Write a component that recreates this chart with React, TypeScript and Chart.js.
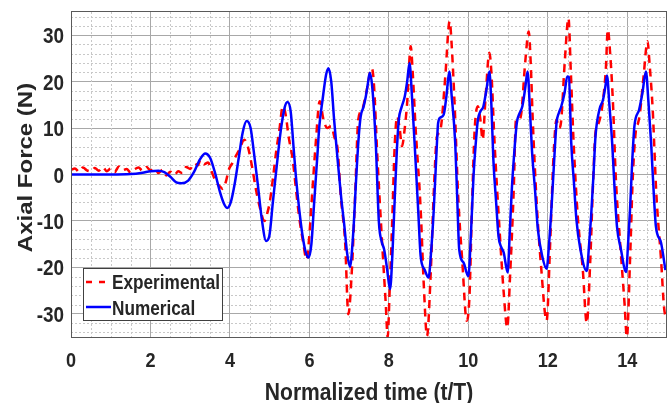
import React, { useEffect, useRef } from "react";
import { Chart, registerables } from "chart.js";

Chart.register(...registerables);

// ---- data ----
const xTicks = [0, 2, 4, 6, 8, 10, 12, 14];
const yTicks = [-30, -20, -10, 0, 10, 20, 30];
const xTitle = "Normalized time (t/T)";
const yTitle = "Axial Force (N)";
const seriesNames = ["Experimental", "Numerical"];

const expT = [
  0, 0.1, 0.2, 0.3, 0.4, 0.5, 0.6, 0.7, 0.8, 0.9, 1.0, 1.1, 1.2, 1.3, 1.4, 1.5, 1.6, 1.7, 1.8, 1.9,
  2.0, 2.1, 2.2, 2.3, 2.4, 2.5, 2.6, 2.7, 2.8, 2.9, 3.0, 3.1, 3.2, 3.25, 3.35, 3.45, 3.55, 3.65, 3.74, 3.82,
  3.9, 3.97, 4.07, 4.15, 4.24, 4.36, 4.45, 4.55, 4.65, 4.75, 4.87, 4.95, 5.0, 5.08, 5.16, 5.25, 5.33, 5.4, 5.48, 5.58,
  5.66, 5.74, 5.84, 5.93, 6.0, 6.06, 6.16, 6.26, 6.35, 6.45, 6.55, 6.63, 6.71, 6.79, 6.9, 6.98, 7.07, 7.15, 7.23, 7.33,
  7.43, 7.57, 7.62, 7.71, 7.83, 7.92, 7.97, 8.02, 8.08, 8.15, 8.21, 8.27, 8.33, 8.4, 8.46, 8.55, 8.6, 8.67, 8.8, 8.88,
  8.96, 9.05, 9.13, 9.21, 9.27, 9.32, 9.42, 9.53, 9.58, 9.66, 9.74, 9.85, 9.96, 10.03, 10.09, 10.16, 10.24, 10.3, 10.36, 10.43,
  10.53, 10.58, 10.66, 10.78, 10.89, 10.98, 11.05, 11.14, 11.2, 11.27, 11.33, 11.43, 11.52, 11.57, 11.62, 11.72, 11.83, 11.97, 12.06, 12.14,
  12.22, 12.28, 12.33, 12.43, 12.52, 12.58, 12.65, 12.76, 12.88, 12.98, 13.07, 13.13, 13.2, 13.27, 13.37, 13.46, 13.51, 13.57, 13.64, 13.71,
  13.82, 13.93, 13.99, 14.07, 14.14, 14.22, 14.27, 14.32, 14.41, 14.51, 14.56, 14.64, 14.73, 14.85, 14.93, 15.0,
];
const expF = [
  1.0, 1.3, 0.6, 1.5, 0.9, 0.7, 1.4, 0.8, 1.6, 0.7, 1.3, 0.5, 1.7, 0.9, 1.2, 0.4, 1.1, 1.5, 0.8, 1.6,
  0.9, 1.4, 0.3, 1.0, -0.2, 0.6, -0.1, 0.7, 0.3, 1.6, 1.2, 2.4, 2.0, 3.1, 2.2, 2.6, 0.4, -1.6, -2.5, -3.1,
  -1.5, 1.0, 2.6, 4.0, 5.4, 7.5, 6.0, 2.0, -3.0, -7.0, -10.0, -8.0, -6.1, -1.0, 4.7, 10.0, 14.7, 13.0, 8.0, 3.2,
  -3.0, -9.0, -14.5, -18.3, -13.0, -5.4, 6.8, 15.8, 12.0, 10.0, 10.4, 8.0, 5.4, -4.7, -14.7, -30.1, -20.4, -4.7, 11.8, 14.0,
  17.6, 22.9, 20.0, 3.9, -14.7, -27.6, -35.0, -25.0, -11.1, 6.8, 12.5, 10.0, 6.1, 10.0, 15.4, 27.6, 22.0, 10.4, -7.5, -24.0,
  -34.8, -21.9, -3.9, 8.2, 9.0, 10.8, 21.1, 33.0, 28.0, 14.0, -3.9, -19.0, -31.5, -26.0, -7.5, 9.7, 14.7, 12.0, 7.5, 16.1,
  26.2, 22.0, 6.8, -11.1, -25.4, -33.0, -21.9, -3.9, 11.8, 11.8, 13.0, 24.0, 30.8, 24.0, 12.0, -6.1, -19.7, -31.5, -14.7, 3.2,
  11.8, 10.0, 11.1, 24.7, 33.7, 22.0, 6.8, -9.7, -20.4, -32.0, -18.3, -3.9, 9.0, 10.8, 14.7, 22.6, 31.2, 26.0, 15.4, -0.4,
  -14.7, -27.6, -35.0, -18.3, -0.4, 9.7, 11.0, 13.3, 21.1, 28.7, 24.0, 14.0, -3.9, -18.3, -29.0, -31.0,
];

const numT = [
  0, 0.5, 1.0, 1.5, 1.8, 2.0, 2.2, 2.35, 2.5, 2.65, 2.78, 2.95, 3.1, 3.25, 3.38, 3.5, 3.62, 3.75, 3.85, 3.93,
  4.02, 4.12, 4.22, 4.32, 4.42, 4.52, 4.6, 4.7, 4.8, 4.91, 4.99, 5.08, 5.18, 5.28, 5.38, 5.45, 5.53, 5.6, 5.66, 5.75,
  5.83, 5.9, 5.98, 6.05, 6.12, 6.2, 6.25, 6.33, 6.42, 6.48, 6.55, 6.62, 6.71, 6.8, 6.88, 6.95, 7.02, 7.1, 7.18, 7.24,
  7.29, 7.36, 7.42, 7.47, 7.52, 7.58, 7.67, 7.75, 7.82, 7.88, 7.95, 8.03, 8.09, 8.15, 8.2, 8.25, 8.32, 8.4, 8.46, 8.52,
  8.58, 8.67, 8.74, 8.8, 8.9, 9.0, 9.06, 9.13, 9.2, 9.24, 9.3, 9.38, 9.45, 9.52, 9.58, 9.67, 9.72, 9.77, 9.88, 10.0,
  10.07, 10.13, 10.18, 10.24, 10.3, 10.38, 10.46, 10.53, 10.58, 10.63, 10.7, 10.76, 10.82, 10.89, 10.99, 11.04, 11.09, 11.15, 11.22, 11.29,
  11.36, 11.43, 11.49, 11.55, 11.6, 11.68, 11.75, 11.86, 11.97, 12.04, 12.1, 12.16, 12.22, 12.28, 12.34, 12.42, 12.49, 12.53, 12.59, 12.66,
  12.72, 12.82, 12.98, 13.04, 13.09, 13.15, 13.2, 13.3, 13.39, 13.45, 13.49, 13.55, 13.62, 13.68, 13.74, 13.84, 13.97, 14.02, 14.07, 14.12,
  14.18, 14.3, 14.38, 14.47, 14.53, 14.6, 14.66, 14.72, 14.85, 14.96,
];
const numF = [
  0, 0, 0, 0.1, 0.4, 0.7, 0.8, 0.5, -0.5, -1.7, -1.9, -1.3, 0.6, 3.3, 4.5, 3.6, 0.5, -3.8, -6.3, -7.2,
  -6.0, -2.0, 3.5, 9.0, 11.5, 10.0, 5.0, -2.0, -9.5, -14.3, -13.3, -6.0, 2.0, 9.5, 14.5, 15.6, 13.5, 6.0, -0.4, -8.0,
  -13.3, -16.5, -17.9, -15.0, -6.0, 4.0, 10.4, 16.0, 21.5, 22.9, 20.0, 12.0, 3.2, -5.0, -11.1, -17.0, -19.9, -13.0, -0.4, 8.0,
  12.5, 14.5, 16.8, 19.5, 21.9, 19.0, 6.8, -10.4, -14.5, -16.1, -20.0, -24.7, -17.0, -4.7, 5.0, 11.8, 14.5, 16.8, 20.0, 24.0,
  17.0, 3.2, -8.0, -17.6, -20.5, -22.2, -17.0, -7.5, 5.0, 11.1, 12.3, 12.9, 17.0, 22.2, 17.0, 6.8, -5.0, -16.1, -19.0, -21.9,
  -12.0, -0.4, 6.0, 11.8, 13.5, 14.7, 18.5, 22.2, 15.0, 3.2, -6.0, -13.3, -15.5, -16.8, -21.1, -13.0, -3.9, 4.0, 11.1, 13.2,
  14.7, 18.5, 22.2, 14.0, 5.4, -3.5, -11.8, -17.6, -20.3, -14.0, -6.1, 3.0, 11.1, 13.3, 14.7, 17.5, 21.1, 21.0, 6.8, -2.0,
  -9.7, -16.1, -20.8, -15.0, -9.0, 0.0, 8.2, 14.0, 16.1, 19.0, 21.3, 15.0, 6.8, -3.0, -11.1, -16.1, -21.0, -15.0, -7.5, 2.0,
  10.4, 14.0, 17.5, 22.2, 16.0, 6.8, -3.0, -11.1, -14.7, -20.6,
];

// ---- styling ----
const FONT = '"Liberation Sans", Arial, Helvetica, sans-serif';
const TEXT = "#262626";
const RED = "#ff0000";
const BLUE = "#0000ff";
const MINOR_X = 0.5;
const MINOR_Y = 2;
const SQX = 0.86; // horizontal condensing of the lettering

function condensedText(ctx: CanvasRenderingContext2D, s: string, x: number, y: number, size: number, align: CanvasTextAlign) {
  ctx.save();
  ctx.translate(x, y);
  ctx.scale(SQX, 1);
  ctx.font = `bold ${size}px ${FONT}`;
  ctx.textAlign = align;
  ctx.textBaseline = "alphabetic";
  ctx.fillStyle = TEXT;
  ctx.fillText(s, 0, 0);
  ctx.restore();
}

const decorPlugin = {
  id: "decor",
  beforeDatasetsDraw(chart: any) {
    const { ctx, chartArea: a, scales } = chart;
    const x = scales.x;
    const y = scales.y;
    ctx.save();
    ctx.strokeStyle = "#c8c8c8";
    ctx.lineWidth = 1;
    ctx.setLineDash([2, 2]);
    for (let v = MINOR_X; v < x.max; v += MINOR_X) {
      if (xTicks.some((t) => Math.abs(t - v) < 1e-6)) continue;
      const px = Math.round(x.getPixelForValue(v)) + 0.5;
      ctx.beginPath();
      ctx.moveTo(px, a.top);
      ctx.lineTo(px, a.bottom);
      ctx.stroke();
    }
    for (let v = Math.ceil(y.min / MINOR_Y) * MINOR_Y; v < y.max; v += MINOR_Y) {
      if (yTicks.some((t) => Math.abs(t - v) < 1e-6)) continue;
      if (v <= y.min) continue;
      const py = Math.round(y.getPixelForValue(v)) + 0.5;
      ctx.beginPath();
      ctx.moveTo(a.left, py);
      ctx.lineTo(a.right, py);
      ctx.stroke();
    }
    ctx.restore();
  },
  afterDraw(chart: any) {
    const { ctx, chartArea: a, scales } = chart;
    ctx.save();
    ctx.setLineDash([]);
    ctx.strokeStyle = "#5a5a5a";
    ctx.lineWidth = 1;
    ctx.strokeRect(Math.round(a.left) + 0.5, Math.round(a.top) - 0.5, Math.round(a.right - a.left) - 1, Math.round(a.bottom - a.top) + 1);

    // tick labels
    for (const t of scales.y.ticks) {
      const py = scales.y.getPixelForValue(t.value);
      condensedText(ctx, String(t.value), a.left - 7, py + 8, 22, "right");
    }
    for (const t of scales.x.ticks) {
      const px = scales.x.getPixelForValue(t.value);
      condensedText(ctx, String(t.value), px, 367, 21, "center");
    }

    // legend
    const lx = Math.round(a.left) + 12;
    const ly = 268;
    const lw = 139;
    const lh = 52;
    ctx.fillStyle = "#ffffff";
    ctx.fillRect(lx, ly, lw, lh);
    ctx.strokeStyle = "#404040";
    ctx.strokeRect(lx + 0.5, ly + 0.5, lw, lh);

    ctx.lineWidth = 2.5;
    ctx.strokeStyle = RED;
    ctx.setLineDash([6, 7]);
    ctx.beginPath();
    ctx.moveTo(lx + 3, ly + 14);
    ctx.lineTo(lx + 28, ly + 14);
    ctx.stroke();
    ctx.setLineDash([]);
    ctx.strokeStyle = BLUE;
    ctx.beginPath();
    ctx.moveTo(lx + 3, ly + 39);
    ctx.lineTo(lx + 28, ly + 39);
    ctx.stroke();

    condensedText(ctx, seriesNames[0], lx + 29, ly + 21, 20, "left");
    condensedText(ctx, seriesNames[1], lx + 29, ly + 47, 20, "left");

    // axis titles
    condensedText(ctx, xTitle, (a.left + a.right) / 2, 400, 24.5, "center");
    ctx.save();
    ctx.translate(32, 167.5);
    ctx.rotate(-Math.PI / 2);
    ctx.scale(1, SQX);
    ctx.font = `bold 24px ${FONT}`;
    ctx.textAlign = "center";
    ctx.textBaseline = "alphabetic";
    ctx.fillStyle = TEXT;
    ctx.fillText(yTitle, 0, 0);
    ctx.restore();
    ctx.restore();
  },
};

export default function App() {
  const ref = useRef<HTMLCanvasElement | null>(null);
  useEffect(() => {
    if (!ref.current) return;
    const chart = new Chart(ref.current, {
      type: "line",
      data: {
        datasets: [
          {
            label: seriesNames[0],
            data: expT.map((t, i) => ({ x: t, y: expF[i] })),
            borderColor: RED,
            borderWidth: 2.5,
            borderDash: [8, 6],
            pointRadius: 0,
            fill: false,
            cubicInterpolationMode: "monotone",
            order: 1,
          },
          {
            label: seriesNames[1],
            data: numT.map((t, i) => ({ x: t, y: numF[i] })),
            borderColor: BLUE,
            borderWidth: 2.5,
            pointRadius: 0,
            fill: false,
            cubicInterpolationMode: "monotone",
            order: 0,
          },
        ],
      },
      options: {
        responsive: false,
        maintainAspectRatio: false,
        devicePixelRatio: 1,
        animation: false,
        layout: { padding: { left: 0, right: 1, top: 12, bottom: 0 } },
        plugins: { legend: { display: false }, tooltip: { enabled: false } },
        scales: {
          x: {
            type: "linear",
            min: 0,
            max: 15,
            afterBuildTicks: (s: any) => {
              s.ticks = xTicks.map((v) => ({ value: v }));
            },
            afterFit: (s: any) => {
              s.height = 66;
            },
            grid: { color: "#a8a8a8", lineWidth: 1, drawTicks: false },
            border: { display: false },
            ticks: { display: false, autoSkip: false, maxRotation: 0 },
          },
          y: {
            type: "linear",
            min: -35,
            max: 35,
            afterBuildTicks: (s: any) => {
              s.ticks = yTicks.map((v) => ({ value: v }));
            },
            afterFit: (s: any) => {
              s.width = 71;
            },
            grid: { color: "#a8a8a8", lineWidth: 1, drawTicks: false },
            border: { display: false },
            ticks: { display: false, autoSkip: false },
          },
        },
      },
      plugins: [decorPlugin],
    });
    return () => chart.destroy();
  }, []);
  return (
    <div style={{ position: "fixed", left: 0, top: 0, width: 668, height: 403, background: "#fff" }}>
      <canvas ref={ref} width={668} height={403} style={{ display: "block", width: 668, height: 403 }} />
    </div>
  );
}
